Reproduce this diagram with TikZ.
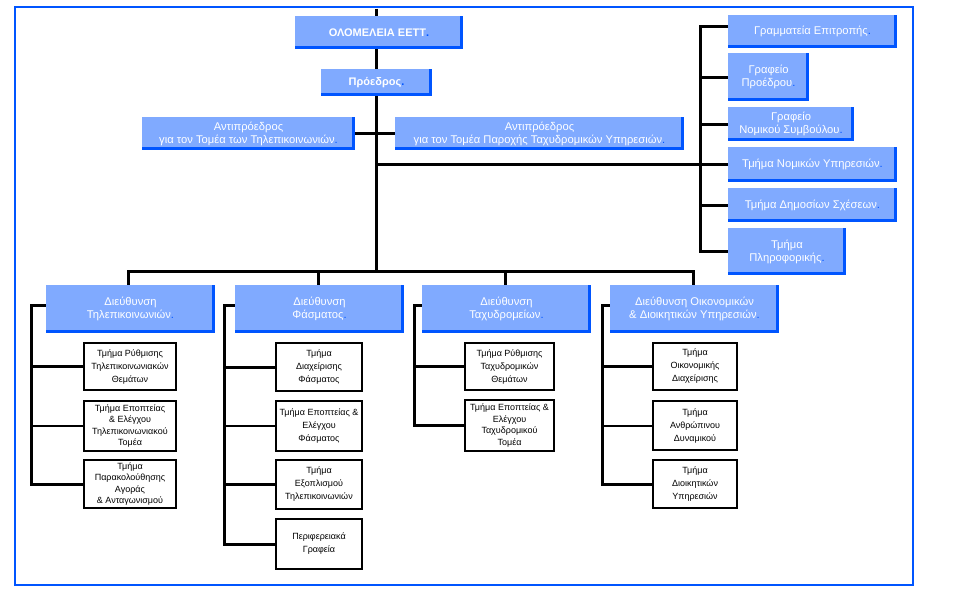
\documentclass[tikz,border=0pt]{standalone}
\usepackage{fontspec}
\setmainfont{Liberation Sans}
\definecolor{lb}{RGB}{128,170,255}
\definecolor{db}{RGB}{0,85,255}
\newcommand{\bdot}{\textcolor{db}{.}}
\pgfdeclarelayer{bg}
\pgfsetlayers{bg,main}
\begin{document}
\begin{tikzpicture}[x=1pt,y=-1pt,
  bluebox/.style={fill=db, inner sep=0pt, align=center, text=white,
    font=\fontsize{11.2}{13}\selectfont,
    path picture={\fill[lb] (path picture bounding box.north west) rectangle ([xshift=-3.5pt,yshift=3.5pt]path picture bounding box.south east);}},
  boldbox/.style={bluebox, font=\fontsize{11}{13}\selectfont\bfseries},
  subbox/.style={draw=black, line width=2pt, fill=white, inner sep=0pt, align=center,
    font=\fontsize{9}{13}\selectfont},
  tight/.style={font=\fontsize{9}{11.6}\selectfont},
  conn/.style={line width=3pt},
  thinconn/.style={line width=2pt}]
\useasboundingbox (0,0) rectangle (957,592);
% frame
\draw[db, line width=2.5pt] (15,7) rectangle (913,585);

% top
\node[boldbox, minimum width=168, minimum height=33] (olo) at (379,32.5) {ΟΛΟΜΕΛΕΙΑ ΕΕΤΤ\bdot};
\node[boldbox, minimum width=111, minimum height=27] (pres) at (376.5,82.5) {Πρόεδρος\bdot};
\node[bluebox, minimum width=213, minimum height=33] (vpL) at (248.5,133.5) {Αντιπρόεδρος\\για τον Τομέα των Τηλεπικοινωνιών\bdot};
\node[bluebox, minimum width=289, minimum height=33] (vpR) at (539.5,133.5) {Αντιπρόεδρος\\για τον Τομέα Παροχής Ταχυδρομικών Υπηρεσιών\bdot};

% right column
\node[bluebox, minimum width=169, minimum height=33] (gram) at (812.5,31.5) {Γραμματεία Επιτροπής\bdot};
\node[bluebox, minimum width=81, minimum height=48] (grPr) at (768.5,77) {Γραφείο\\Προέδρου\bdot};
\node[bluebox, minimum width=126, minimum height=34] (grNom) at (791,124) {Γραφείο\\Νομικού Συμβούλου\bdot};
\node[bluebox, minimum width=169, minimum height=35] (tNom) at (812.5,164.5) {Τμήμα Νομικών Υπηρεσιών\bdot};
\node[bluebox, minimum width=169, minimum height=34] (tDim) at (812.5,205) {Τμήμα Δημοσίων Σχέσεων\bdot};
\node[bluebox, minimum width=118, minimum height=47] (tPl) at (787,251.5) {Τμήμα\\Πληροφορικής\bdot};

% directorates
\node[bluebox, minimum width=169, minimum height=48] (dTel) at (130.5,309) {Διεύθυνση\\Τηλεπικοινωνιών\bdot};
\node[bluebox, minimum width=169, minimum height=48] (dFas) at (319.5,309) {Διεύθυνση\\Φάσματος\bdot};
\node[bluebox, minimum width=169, minimum height=48] (dTax) at (506.5,309) {Διεύθυνση\\Ταχυδρομείων\bdot};
\node[bluebox, minimum width=169, minimum height=48] (dOik) at (694.5,309) {Διεύθυνση Οικονομικών\\\& Διοικητικών Υπηρεσιών\bdot};

% sub departments
\node[subbox, minimum width=92, minimum height=47] (s11) at (130,366.5) {Τμήμα Ρύθμισης\\Τηλεπικοινωνιακών\\Θεμάτων};
\node[subbox, tight, minimum width=92, minimum height=50] (s12) at (130,426) {Τμήμα Εποπτείας\\\& Ελέγχου\\Τηλεπικοινωνιακού\\Τομέα};
\node[subbox, tight, minimum width=92, minimum height=48] (s13) at (130,484) {Τμήμα\\Παρακολούθησης\\Αγοράς\\\& Ανταγωνισμού};

\node[subbox, minimum width=86, minimum height=48] (s21) at (319,367) {Τμήμα\\Διαχείρισης\\Φάσματος};
\node[subbox, minimum width=86, minimum height=50] (s22) at (319,426) {Τμήμα Εποπτείας \&\\Ελέγχου\\Φάσματος};
\node[subbox, minimum width=86, minimum height=49] (s23) at (319,484.5) {Τμήμα\\Εξοπλισμού\\Τηλεπικοινωνιών};
\node[subbox, minimum width=86, minimum height=50] (s24) at (319,544) {Περιφερειακά\\Γραφεία};

\node[subbox, minimum width=89, minimum height=47] (s31) at (509.5,366.5) {Τμήμα Ρύθμισης\\Ταχυδρομικών\\Θεμάτων};
\node[subbox, tight, minimum width=89, minimum height=51] (s32) at (509.5,425.5) {Τμήμα Εποπτείας \&\\Ελέγχου\\Ταχυδρομικού\\Τομέα};

\node[subbox, minimum width=84, minimum height=47] (s41) at (695,366.5) {Τμήμα\\Οικονομικής\\Διαχείρισης};
\node[subbox, minimum width=84, minimum height=49] (s42) at (695,425.5) {Τμήμα\\Ανθρώπινου\\Δυναμικού};
\node[subbox, minimum width=84, minimum height=48] (s43) at (695,484) {Τμήμα\\Διοικητικών\\Υπηρεσιών};

\coordinate (ttop) at (376,8.5);
\coordinate (bus) at (376,271);
\coordinate (rtop) at (700,26);
\coordinate (cA) at (31,0);
\coordinate (cB) at (224,0);
\coordinate (cC) at (414,0);
\coordinate (cD) at (602,0);

\begin{pgfonlayer}{bg}
\draw[conn] (ttop) -- (bus);
\draw[conn] (vpL.east) -- (vpR.west);
\draw[conn] (ttop |- tNom.west) -- (tNom.west);
\draw[conn] (gram.west |- rtop) -- (rtop) |- (tPl.west);
\draw[conn] (rtop |- grPr.west) -- (grPr.west);
\draw[conn] (rtop |- grNom.west) -- (grNom.west);
\draw[conn] (rtop |- tDim.west) -- (tDim.west);
\draw[conn] ([xshift=-2.5pt]dTel.north) |- (bus) -| ([xshift=-1.5pt]dOik.north);
\draw[conn] ([xshift=-1.5pt]dFas.north) -- ([xshift=-1.5pt]dFas.north |- bus);
\draw[conn] ([xshift=-1pt]dTax.north) -- ([xshift=-1pt]dTax.north |- bus);
% column A
\draw[conn] ([yshift=4pt]dTel.west) -| (cA |- s13.west) -- (s13.west);
\draw[conn] (cA |- s11.west) -- (s11.west);
\draw[thinconn] (cA |- s12.west) -- (s12.west);
% column B
\draw[conn] ([yshift=4pt]dFas.west) -| (cB |- s24.west) -- (s24.west);
\draw[conn] (cB |- s21.west) -- (s21.west);
\draw[thinconn] (cB |- s22.west) -- (s22.west);
\draw[conn] (cB |- s23.west) -- (s23.west);
% column C
\draw[conn] ([yshift=4pt]dTax.west) -| (cC |- s32.west) -- (s32.west);
\draw[conn] (cC |- s31.west) -- (s31.west);
% column D
\draw[conn] ([yshift=4pt]dOik.west) -| (cD |- s43.west) -- (s43.west);
\draw[conn] (cD |- s41.west) -- (s41.west);
\draw[thinconn] (cD |- s42.west) -- (s42.west);
\end{pgfonlayer}
\end{tikzpicture}
\end{document}
